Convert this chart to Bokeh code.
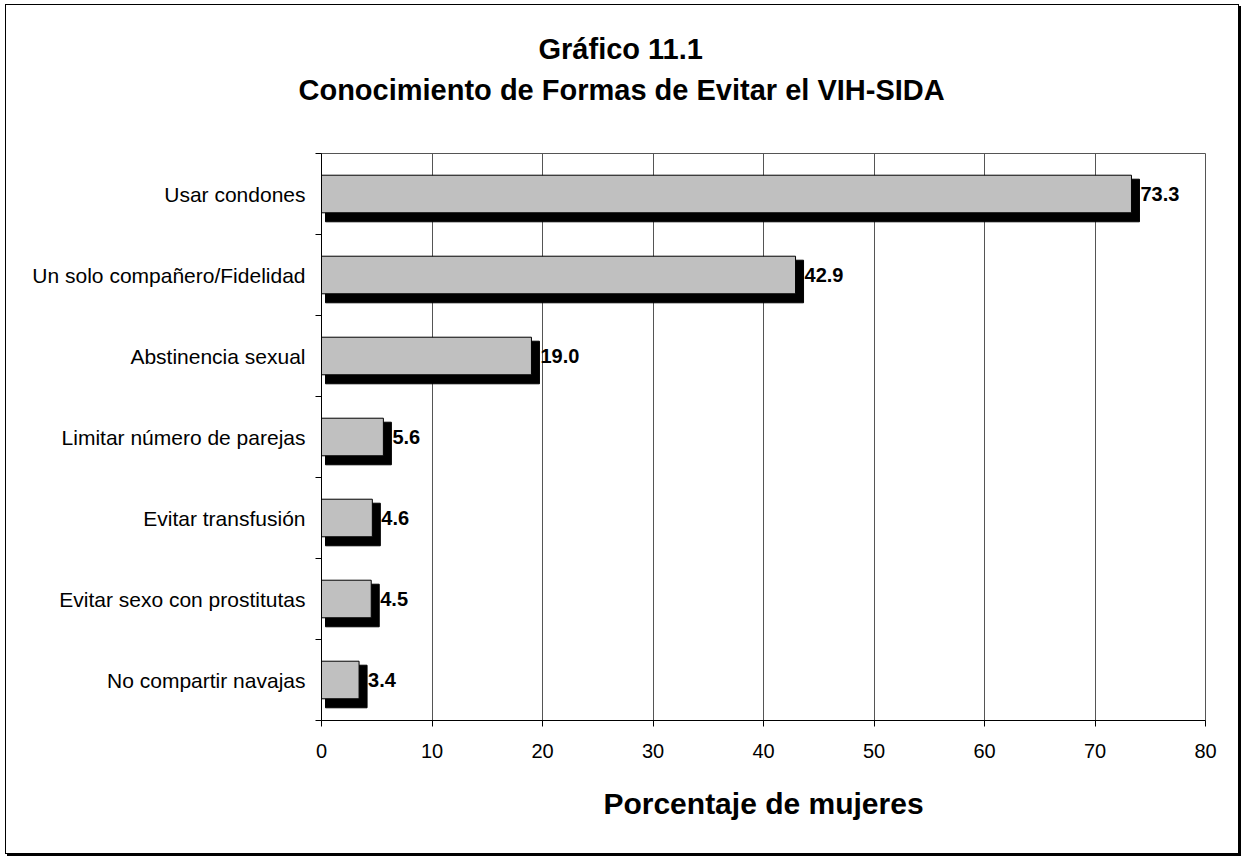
from bokeh.plotting import figure
from bokeh.models import Range1d, FixedTicker, Title, ColumnDataSource
from bokeh.core.properties import value
from bokeh.embed import file_html
from bokeh.resources import INLINE

categories = ["Usar condones", "Un solo compañero/Fidelidad", "Abstinencia sexual",
              "Limitar número de parejas", "Evitar transfusión",
              "Evitar sexo con prostitutas", "No compartir navajas"]
values = [73.3, 42.9, 19.0, 5.6, 4.6, 4.5, 3.4]
x_ticks = [0, 10, 20, 30, 40, 50, 60, 70, 80]
title_lines = ["Gráfico 11.1", "Conocimiento de Formas de Evitar el VIH-SIDA"]
x_title = "Porcentaje de mujeres"

FONT = "Liberation Sans"
n = len(categories)
centers = [n - 0.5 - i for i in range(n)]

W, H = 1234, 850
p = figure(width=W, height=H, output_backend="svg", toolbar_location=None,
           x_range=Range1d(0, 80), y_range=Range1d(0, n),
           min_border_left=315, min_border_top=148, min_border_right=35, min_border_bottom=135)
p.styles = {"border": "1px solid black", "box-shadow": "2px 2px 0 black",
            "margin-left": "5px", "margin-top": "4px"}

# pixel -> data conversions (frame 884 x 567 px)
px_x = 80 / 884.0
px_y = n / 567.0
half = 0.232

src = ColumnDataSource(dict(
    y=centers, v=values,
    top=[c + half for c in centers], bottom=[c - half for c in centers],
    s_left=[4 * px_x] * n, s_right=[v + 8 * px_x for v in values],
    s_top=[c + half - 4 * px_y for c in centers], s_bottom=[c - half - 9 * px_y for c in centers],
    lab=["%.1f" % v for v in values],
))

p.quad(left="s_left", right="s_right", top="s_top", bottom="s_bottom", source=src,
       fill_color="black", line_color="black")
p.quad(left=0, right="v", top="top", bottom="bottom", source=src,
       fill_color="#C0C0C0", line_color="black", line_width=1)
p.text(x="v", y="y", text="lab", source=src, x_offset=9, text_baseline="middle",
       text_align="left", text_font=value(FONT), text_font_style="bold",
       text_font_size="20px", text_color="black")

# grid
p.ygrid.visible = False
p.xgrid.ticker = FixedTicker(ticks=x_ticks)
p.xgrid.grid_line_color = "#555555"
p.xgrid.grid_line_width = 1
p.outline_line_color = "#555555"
p.outline_line_width = 1

# x axis
xa = p.xaxis[0]
xa.ticker = FixedTicker(ticks=x_ticks)
xa.axis_line_color = "black"
xa.major_tick_in = 0
xa.major_tick_out = 6
xa.minor_tick_out = 0
xa.minor_tick_in = 0
xa.major_label_text_font = FONT
xa.major_label_text_font_size = "20px"
xa.major_label_text_color = "black"
xa.major_label_standoff = 17
xa.axis_label = x_title
xa.axis_label_text_font = FONT
xa.axis_label_text_font_size = "30px"
xa.axis_label_text_font_style = "bold"
xa.axis_label_text_color = "black"
xa.axis_label_standoff = 26

# y axis
ya = p.yaxis[0]
ya.ticker = FixedTicker(ticks=centers, minor_ticks=list(range(n + 1)))
ya.major_label_overrides = {c: lab for c, lab in zip(centers, categories)}
ya.axis_line_color = "black"
ya.major_tick_in = 0
ya.major_tick_out = 0
ya.minor_tick_in = 0
ya.minor_tick_out = 6
ya.minor_tick_line_color = "black"
ya.major_label_text_font = FONT
ya.major_label_text_font_size = "21px"
ya.major_label_text_color = "black"
ya.major_label_standoff = 10

# titles: second line nearest the frame, first line above it
t2 = Title(text=title_lines[1], align="left", offset=-23, text_font=FONT,
           text_font_size="29px", text_font_style="bold", text_color="black", standoff=95)
t1 = Title(text=title_lines[0], align="left", offset=217, text_font=FONT,
           text_font_size="29px", text_font_style="bold", text_color="black", standoff=-80)
p.add_layout(t2, "above")
p.add_layout(t1, "above")

open("out.html", "w").write(file_html(p, INLINE))
